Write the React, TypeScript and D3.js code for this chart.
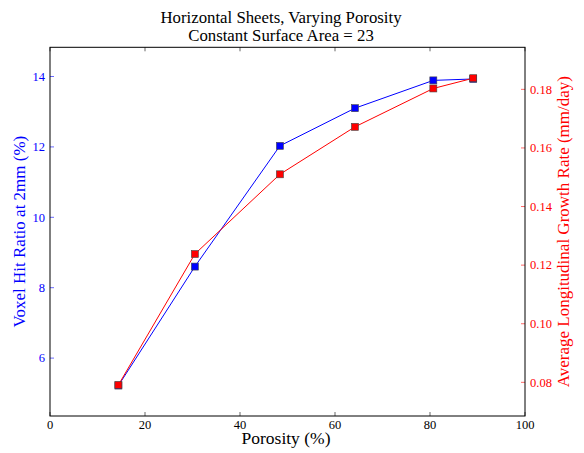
import React from "react";
import * as d3 from "d3";

const porosity = [14.4, 30.5, 48.4, 64.2, 80.7, 89.1];
const hitRatio = [5.22, 8.6, 12.03, 13.1, 13.89, 13.93];
const growthRate = [0.0791, 0.1238, 0.151, 0.1672, 0.1803, 0.1838];
const xTicks = [0, 20, 40, 60, 80, 100];
const leftTicks = [6, 8, 10, 12, 14];
const rightTicks = [0.08, 0.1, 0.12, 0.14, 0.16, 0.18];
const titleLines = ["Horizontal Sheets, Varying Porosity", "Constant Surface Area = 23"];

const W = 584;
const H = 453;
const L = 50, R = 525, T = 47.3, B = 416;
const FONT = "Liberation Serif, DejaVu Serif, Times, serif";
const BLUE = "#0000ff";
const RED = "#ff0000";

export default function App() {
  const x = d3.scaleLinear().domain([0, 100]).range([L, R]);
  const yL = d3.scaleLinear().domain([4.355, 14.83]).range([B, T]);
  const yR = d3.scaleLinear().domain([0.06851, 0.19435]).range([B, T]);

  const lineL = d3.line<number>().x((_, i) => x(porosity[i])).y((d) => yL(d));
  const lineR = d3.line<number>().x((_, i) => x(porosity[i])).y((d) => yR(d));
  const ms = 7;
  const ts = { fontFamily: FONT };
  const midY = (T + B) / 2;

  return (
    <svg width={W} height={H} style={{ position: "absolute", left: 0, top: 0, background: "#fff", fontFamily: FONT }}>
      <rect x={0} y={0} width={W} height={H} fill="#fff" />
      {titleLines.map((t, i) => (
        <text key={t} x={281} y={22.5 + i * 18} textAnchor="middle" style={ts} fontSize={16.8} fill="#000">
          {t}
        </text>
      ))}
      <path d={lineL(hitRatio) || ""} fill="none" stroke={BLUE} strokeWidth={1} />
      {hitRatio.map((v, i) => (
        <rect key={"b" + i} x={x(porosity[i]) - ms / 2} y={yL(v) - ms / 2} width={ms} height={ms} fill={BLUE} stroke="#444" strokeWidth={0.6} />
      ))}
      <path d={lineR(growthRate) || ""} fill="none" stroke={RED} strokeWidth={1} />
      {growthRate.map((v, i) => (
        <rect key={"r" + i} x={x(porosity[i]) - ms / 2} y={yR(v) - ms / 2} width={ms} height={ms} fill={RED} stroke="#444" strokeWidth={0.6} />
      ))}
      {xTicks.map((t) => (
        <g key={"x" + t}>
          <line x1={x(t)} x2={x(t)} y1={B} y2={B - 4} stroke="#000" strokeWidth={0.6} />
          <line x1={x(t)} x2={x(t)} y1={T} y2={T + 4} stroke="#000" strokeWidth={0.6} />
          <text x={x(t)} y={B + 12.5} textAnchor="middle" style={ts} fontSize={12.5} fill="#000">
            {t}
          </text>
        </g>
      ))}
      {leftTicks.map((t) => (
        <g key={"l" + t}>
          <line x1={L} x2={L + 4} y1={yL(t)} y2={yL(t)} stroke={BLUE} strokeWidth={0.6} />
          <text x={L - 5} y={yL(t) + 4.3} textAnchor="end" style={ts} fontSize={12.5} fill={BLUE}>
            {t}
          </text>
        </g>
      ))}
      {rightTicks.map((t) => (
        <g key={"r" + t}>
          <line x1={R - 4} x2={R} y1={yR(t)} y2={yR(t)} stroke={RED} strokeWidth={0.6} />
          <text x={R + 5} y={yR(t) + 4.3} textAnchor="start" style={ts} fontSize={12.5} fill={RED}>
            {d3.format(".2f")(t)}
          </text>
        </g>
      ))}
      <rect x={L} y={T} width={R - L} height={B - T} fill="none" stroke="#000" strokeWidth={1} />
      <text x={286} y={444.3} textAnchor="middle" style={ts} fontSize={17.5} fill="#000">
        Porosity (%)
      </text>
      <text transform={`translate(24.5,${midY}) rotate(-90)`} textAnchor="middle" style={ts} fontSize={17} fill={BLUE}>
        Voxel Hit Ratio at 2mm (%)
      </text>
      <text transform={`translate(568.5,${midY}) rotate(-90)`} textAnchor="middle" style={ts} fontSize={17} fill={RED}>
        Average Longitudinal Growth Rate (mm/day)
      </text>
    </svg>
  );
}
